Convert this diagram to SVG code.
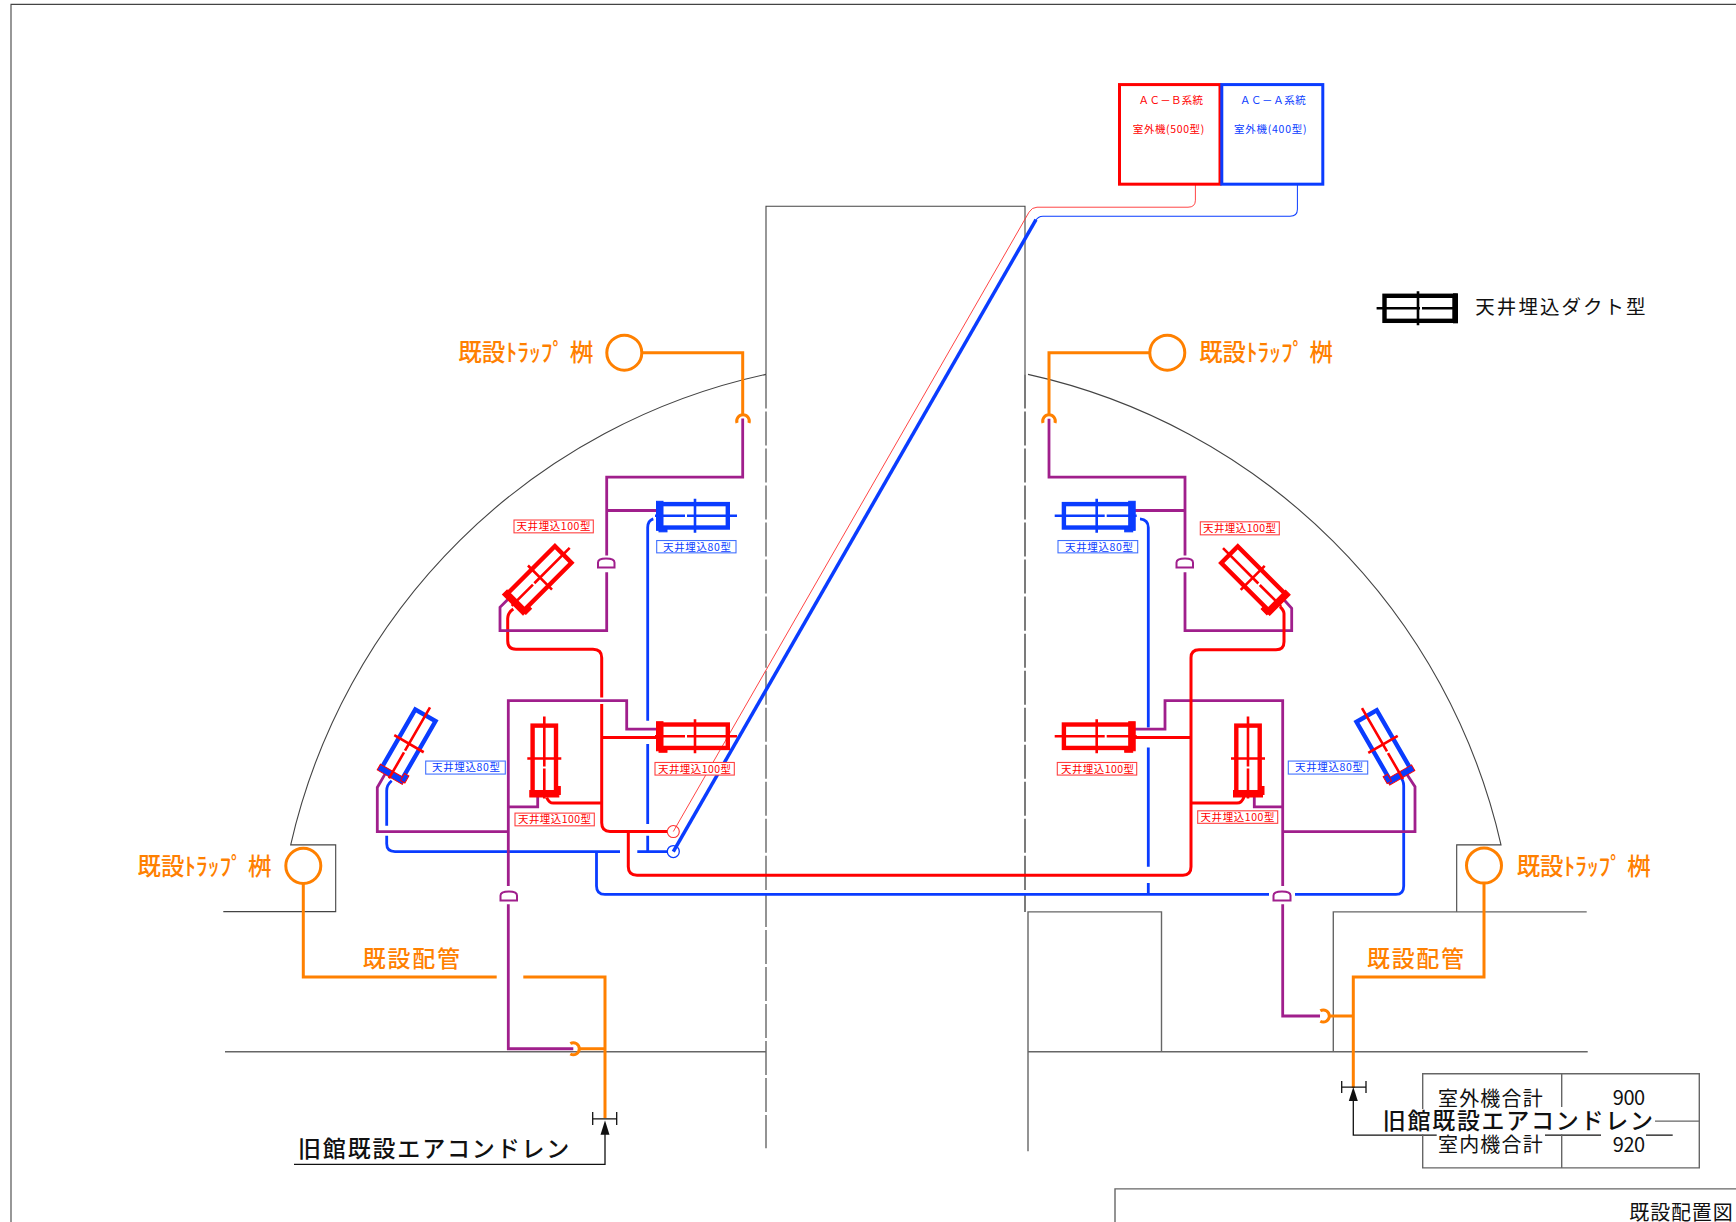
<svg xmlns="http://www.w3.org/2000/svg" xmlns:xlink="http://www.w3.org/1999/xlink" width="1736" height="1222" viewBox="0 0 1736 1222">
<style>
text{font-family:"Noto Sans CJK JP","Noto Sans",sans-serif}
.ln{fill:none;stroke:#444;stroke-width:1.1}
.gr{fill:none;stroke:#666;stroke-width:1.4}
.p{fill:none;stroke-linejoin:miter}
.r{stroke:#ff0000;stroke-width:3}
.b{stroke:#0a3cff;stroke-width:2.8}
.m{stroke:#a01f8c;stroke-width:2.8}
.o{stroke:#ff8000;stroke-width:3}
.th{stroke-width:1}
.lab{fill:#fff;stroke-width:1.1}
.lr{stroke:#ff4040}.lb{stroke:#4070ff}
.tr{fill:#ff0000}.tb{fill:#0a3cff}.to{fill:#ff8000}.tk{fill:#111}
.s{font-size:10.5px}
.ac{font-size:10.5px}
.big{font-size:23px;font-weight:500}
.kk{font-size:24px;font-weight:500}
.ahu-box{fill:none;stroke:currentColor;stroke-width:4.4}
.ahu-end{fill:currentColor}
.ahu-x{fill:none;stroke-width:2.6}
</style>
<defs>
<g id="ahu">
<rect class="ahu-box" x="-34.5" y="-11.7" width="67.3" height="23.4"/>
<rect class="ahu-end" x="-38.5" y="-14.5" width="6.5" height="29"/>
<rect class="ahu-end" x="-36" y="11" width="8" height="5"/>
<path class="ahu-x" d="M0-17V17M-40 0H-10M-8 0H42"/>
</g>
</defs>
<g transform="scale(1,1.001)">
<g id="building">
<path class="ln" d="M11 1222V4.4H1736"/>
<path class="ln" d="M766 374V206H1025V374"/>
<path class="gr" d="M766 374V1147" stroke-dasharray="34 3"/>
<path class="gr" d="M1025 374V911" stroke-dasharray="34 3" style="stroke:#444"/>
<path class="ln" d="M766 374A622.5 622.5 0 0 0 290.7 844H335.7V910.7H223.3"/>
<path class="ln" d="M1028 374A622.5 622.5 0 0 1 1501 844H1456.7V911"/>
<path class="gr" d="M1333.3 1050V911H1586.7"/>
<path class="gr" d="M225 1050.7H766"/>
<path class="gr" d="M1028 1150V911H1161.5V1050.7M1028 1050.7H1587.7"/>
<path class="gr" d="M1115 1222V1187.7H1736"/>
</g>

<g id="connectors">
<g class="p">
<path class="b th" d="M1297.4 184V209Q1297.4 216 1290 216H1043Q1038 216 1035 221"/>
<path class="r" style="stroke:#ff3030;stroke-width:.9" d="M1195.4 184V200Q1195.4 207 1188 207H1037Q1032 207 1029 212L673.3 830.7"/>
<path class="b" style="stroke-width:3.5" d="M1036 219.5L673.3 850.7"/>
<path class="b" d="M653.3 518.3Q647.7 520 647.7 527V720M647.7 743.3V823.3M647.7 835V850.7"/>
<path class="b" d="M391.7 780Q386.7 784 386.7 790V825M386.7 835V843Q386.7 850.7 395 850.7H620M637.3 850.7H667"/>
<path class="b" d="M596.5 850.7V885Q596.5 893.5 605 893.5H1269M1295 893.5H1396Q1403.7 893.5 1403.7 885V785Q1403.7 779 1399 775"/>
<path class="b" d="M1140 518.3Q1148.3 519 1148.3 527V726.7M1148.3 746.7V866M1148.3 882V893"/>
<path class="r" d="M513.3 608.3Q507.7 612 507.7 618V640Q507.7 648.5 516 648.5H593Q601.7 648.5 601.7 657V696.7M601.7 703.3V822Q601.7 830.7 610 830.7H667"/>
<path class="r" d="M601.7 736.7H656.7M601.7 802.3H553.3Q549 802.3 546.7 796.7"/>
<path class="m" d="M742.7 418V476.7H606.7V555M606.7 571.7V630H500V606.7L510 596.7M606.7 510H660"/>
<path class="m" d="M660 728.3H626.7V700H508.3V885M508.3 903.3V1047.7H573.3M508.3 806H537.7V791.7M508.3 830.7H377.3V786.7L385 773.3"/>
<path class="m" d="M1049 418.3V476.7H1185V555M1185 571.7V630H1291.7V607.7L1281.7 596.7M1185 510H1131.7"/>
<path class="m" d="M1131.7 728.3H1165V700H1282.7V885M1282.7 903.3V1015H1320M1282.7 806H1254.3V791.7M1282.7 830.7H1415V786L1406.7 773.3"/>
<path class="r" d="M628.3 830.7V866Q628.3 874.3 637 874.3H1183Q1191 874.3 1191 866V657Q1191 649 1199 649H1276Q1284 649 1284 641V613Q1284 610 1280 606"/>
<path class="r" d="M1191 736.7H1133M1191 802.3H1237Q1242 802.3 1244 796"/>
<path class="o" d="M643 352.3H742.7V413M737 422.5A6.3 6.3 0 1 1 749 422.5"/>
<path class="o" d="M1149 352.3H1049V413M1043 422.5A6.3 6.3 0 1 1 1055 422.5"/>
<path class="o" d="M303.3 883V976H496.7M523.3 976H605V1117"/>
<path class="o" d="M579.3 1047.7H605M570.3 1042.5A6 6 0 1 1 570.3 1052.9"/>
<path class="o" d="M1484 883V976H1353.3V1087"/>
<path class="o" d="M1329.3 1015H1353.3M1320.3 1009.8A6 6 0 1 1 1320.3 1020.2"/>
<path class="ln" style="stroke:#111;stroke-width:1.3" d="M592.7 1111V1124M592.7 1117.7H616.7M616.7 1111V1124M605 1130V1163.3H294"/>
<path class="ln" style="stroke:#111;stroke-width:1.3" d="M1341.7 1080V1092M1341.7 1086H1366M1366 1080V1092M1353.3 1098V1134H1436.7M1545 1134H1601M1646 1134H1672.7"/>
<path fill="#111" d="M605 1119.5L609.5 1133.5H600.5Z"/>
<path fill="#111" d="M1353.3 1086L1357.8 1100H1348.8Z"/>
</g>
</g>

<g id="outdoor-b">
<rect x="1119.5" y="84.5" width="100.5" height="99.5" fill="none" stroke="#ff0000" stroke-width="3"/>
<text class="ac tr" x="1138.6" y="104" textLength="64.5">ＡＣ－Ｂ系統</text>
<text class="ac tr" x="1132.8" y="133" textLength="71.5">室外機(500型)</text>
</g>
<g id="outdoor-a">
<rect x="1221.8" y="84.5" width="101" height="99.5" fill="none" stroke="#0a3cff" stroke-width="3"/>
<text class="ac tb" x="1240" y="104" textLength="65.8">ＡＣ－Ａ系統</text>
<text class="ac tb" x="1234" y="133" textLength="72.5">室外機(400型)</text>
</g>

<g id="circles" class="p">
<circle cx="673.3" cy="830.7" r="6" stroke="#ff3030" stroke-width="1.1" fill="none"/>
<circle cx="673.3" cy="850.7" r="6" stroke="#0a3cff" stroke-width="1.3" fill="none"/>
</g>

<g id="domes" class="p m">
<path class="m" style="stroke-width:2" d="M598 567V562Q598 558 606 558Q614.5 558 614.5 562V567Z"/>
<path class="m" style="stroke-width:2" d="M1176.5 567V562Q1176.5 558 1185 558Q1193 558 1193 562V567Z"/>
<path class="m" style="stroke-width:2" d="M500.5 899.5V894.5Q500.5 890.5 509 890.5Q517 890.5 517 894.5V899.5Z"/>
<path class="m" style="stroke-width:2" d="M1273.5 899.5V894.5Q1273.5 890.5 1282 890.5Q1290.5 890.5 1290.5 894.5V899.5Z"/>
</g>

<g id="unit-l1"><use href="#ahu" transform="translate(540,577) rotate(-45)" color="#ff0000" stroke="#ff0000"/></g>
<g id="unit-l2"><use href="#ahu" transform="translate(695,515.3)" color="#0a3cff" stroke="#0a3cff"/></g>
<g id="unit-l3"><use href="#ahu" transform="translate(695,735.5)" color="#ff0000" stroke="#ff0000"/></g>
<g id="unit-l4"><use href="#ahu" transform="translate(544.3,757.7) rotate(-90)" color="#ff0000" stroke="#ff0000"/></g>
<g id="unit-l5"><use href="#ahu" transform="translate(409,743) rotate(-60)" color="#0a3cff" stroke="#ff0000"/></g>
<g id="unit-r1"><use href="#ahu" transform="translate(1252.7,577.3) rotate(45) scale(-1,1)" color="#ff0000" stroke="#ff0000"/></g>
<g id="unit-r2"><use href="#ahu" transform="translate(1096.7,515.3) scale(-1,1)" color="#0a3cff" stroke="#0a3cff"/></g>
<g id="unit-r3"><use href="#ahu" transform="translate(1096.7,735.5) scale(-1,1)" color="#ff0000" stroke="#ff0000"/></g>
<g id="unit-r4"><use href="#ahu" transform="translate(1248,757.7) rotate(-90)" color="#ff0000" stroke="#ff0000"/></g>
<g id="unit-r5"><use href="#ahu" transform="translate(1383,743.7) rotate(60) scale(-1,1)" color="#0a3cff" stroke="#ff0000"/></g>

<g id="labels">
<g><rect class="lab lr" x="514" y="519.5" width="79.3" height="12.8"/><text class="s tr" x="516.5" y="529.8" textLength="74">天井埋込100型</text></g>
<g><rect class="lab lb" x="656.7" y="540" width="79.3" height="12.3"/><text class="s tb" x="663" y="550" textLength="68">天井埋込80型</text></g>
<g><rect class="lab lb" x="425.7" y="760.3" width="79.6" height="13"/><text class="s tb" x="432" y="770.6" textLength="68">天井埋込80型</text></g>
<g><rect class="lab lr" x="655" y="761.7" width="79.3" height="12.6"/><text class="s tr" x="658" y="772" textLength="73">天井埋込100型</text></g>
<g><rect class="lab lr" x="515" y="812.3" width="79.3" height="12.7"/><text class="s tr" x="518" y="822.6" textLength="73">天井埋込100型</text></g>
<g><rect class="lab lr" x="1200.3" y="521.3" width="79" height="13"/><text class="s tr" x="1203" y="531.6" textLength="73">天井埋込100型</text></g>
<g><rect class="lab lb" x="1058" y="540" width="79.7" height="12.3"/><text class="s tb" x="1065" y="550" textLength="68">天井埋込80型</text></g>
<g><rect class="lab lr" x="1057.3" y="761.7" width="79.4" height="12.6"/><text class="s tr" x="1061" y="772" textLength="73">天井埋込100型</text></g>
<g><rect class="lab lb" x="1288.3" y="760.3" width="79.4" height="13"/><text class="s tb" x="1295" y="770.6" textLength="68">天井埋込80型</text></g>
<g><rect class="lab lr" x="1197.7" y="810" width="80" height="12.5"/><text class="s tr" x="1200.5" y="820.3" textLength="74">天井埋込100型</text></g>
</g>

<g id="trap-1"><circle cx="624.3" cy="352.3" r="17.5" fill="none" stroke="#ff8000" stroke-width="3"/><text class="kk to" x="458.3" y="361" textLength="135" lengthAdjust="spacingAndGlyphs">既設ﾄﾗｯﾌﾟ 桝</text></g>
<g id="trap-2"><circle cx="1167.3" cy="352.3" r="17.5" fill="none" stroke="#ff8000" stroke-width="3"/><text class="kk to" x="1199.3" y="361" textLength="133.5" lengthAdjust="spacingAndGlyphs">既設ﾄﾗｯﾌﾟ 桝</text></g>
<g id="trap-3"><circle cx="303.3" cy="865" r="17.5" fill="none" stroke="#ff8000" stroke-width="3"/><text class="kk to" x="137.5" y="874" textLength="134" lengthAdjust="spacingAndGlyphs">既設ﾄﾗｯﾌﾟ 桝</text></g>
<g id="trap-4"><circle cx="1484" cy="864.7" r="17.5" fill="none" stroke="#ff8000" stroke-width="3"/><text class="kk to" x="1516.7" y="874" textLength="134" lengthAdjust="spacingAndGlyphs">既設ﾄﾗｯﾌﾟ 桝</text></g>

<g id="pipe-labels">
<text class="big to" x="362.7" y="966" textLength="97.3">既設配管</text>
<text class="big to" x="1367" y="966" textLength="97">既設配管</text>
</g>

<g id="legend">
<rect x="1384.5" y="295.5" width="70" height="25" fill="none" stroke="#000" stroke-width="4.4"/>
<path fill="none" stroke="#000" stroke-width="5" d="M1455.5 293V323"/>
<path fill="none" stroke="#000" stroke-width="2.6" d="M1418 291V325M1376.6 308H1420M1422 308H1453"/>
<text class="tk" x="1475.3" y="314" font-size="19.5" textLength="170.3">天井埋込ダクト型</text>
</g>

<g id="drain-left"><text class="big tk" x="298" y="1156" textLength="271.3">旧館既設エアコンドレン</text></g>

<g id="table">
<path class="gr" d="M1422.7 1108V1072.7H1699.3V1166.7H1422.7V1133M1561.7 1072.7V1106M1561.7 1133V1166.7M1655 1120H1699.3"/>
<text class="tk" x="1438" y="1104.5" font-size="20" textLength="104.7">室外機合計</text>
<text class="tk" x="1438" y="1151" font-size="20" textLength="104.7">室内機合計</text>
<text class="tk" x="1612.7" y="1104" font-size="20" textLength="32.5">900</text>
<text class="tk" x="1612.7" y="1150.5" font-size="20" textLength="32.5">920</text>
</g>
<g id="drain-right"><text class="big tk" x="1382.7" y="1128" textLength="270.3">旧館既設エアコンドレン</text></g>
<g id="title"><text class="tk" x="1629.3" y="1219" font-size="20" textLength="103.4">既設配置図</text></g>
</g>
</svg>
